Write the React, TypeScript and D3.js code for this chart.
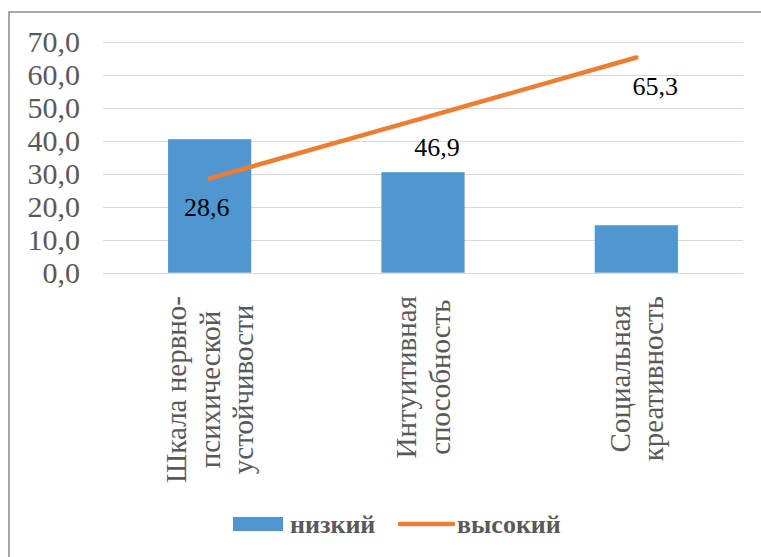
import React from "react";
import * as d3 from "d3";

const categories: string[][] = [
  ["Шкала нервно-", "психической", "устойчивости"],
  ["Интуитивная", "способность"],
  ["Социальная", "креативность"],
];
const lowValues = [40.5, 30.5, 14.4];
const highValues = [28.6, 46.9, 65.3];
const yTicks = [0, 10, 20, 30, 40, 50, 60, 70];
const seriesNames = ["низкий", "высокий"];

const W = 761;
const H = 557;
const labelDx = [-3, 14, 19];

const plotL = 103, plotR = 743, plotT = 42, plotB = 272.7;
const x = d3.scaleBand<number>().domain(d3.range(categories.length)).range([plotL, plotR]).paddingInner(0.61).paddingOuter(0.305);
const y = d3.scaleLinear().domain([0, 70]).range([plotB, plotT]);
const cx = (i: number) => (x(i) as number) + x.bandwidth() / 2;
const fmt = (v: number) => v.toFixed(1).replace(".", ",");

function measure(text: string, size: number): number {
  if (typeof document === "undefined") return text.length * size * 0.5;
  const c = document.createElement("canvas").getContext("2d");
  if (!c) return text.length * size * 0.5;
  c.font = `${size}px "Liberation Serif"`;
  return c.measureText(text).width;
}

export default function App() {
  const linePath = d3.line<number>().x((_d, i) => cx(i)).y((d) => y(d))(highValues) || "";
  const lineGap = 33.5;
  const catTop = 296;
  const catSize = 29;

  return (
    <svg width={W} height={H} style={{ position: "absolute", left: 0, top: 0 }}>
      <rect width={W} height={H} fill="#fff" />
      <path d={`M9,${H} L9,12 L${W},12`} fill="none" stroke="#8c8c8c" strokeWidth={1.5} />

      {yTicks.map((t) => (
        <line key={"g" + t} x1={plotL} x2={plotR} y1={Math.round(y(t)) + 0.5} y2={Math.round(y(t)) + 0.5} stroke="#d9d9d9" strokeWidth={1.2} />
      ))}
      {yTicks.map((t) => (
        <text key={"t" + t} x={80} y={y(t) + 10} textAnchor="end" fontSize={30} fill="#595959" style={{ fontFamily: '"Liberation Serif"' }}>
          {fmt(t)}
        </text>
      ))}

      {lowValues.map((v, i) => (
        <rect key={"b" + i} x={x(i)} width={x.bandwidth()} y={y(v)} height={plotB - y(v)} fill="#5097d1" />
      ))}

      <path d={linePath} fill="none" stroke="#ed7d31" strokeWidth={4.5} strokeLinecap="round" />

      {highValues.map((v, i) => (
        <text key={"d" + i} x={cx(i) + labelDx[i]} y={y(v) + 38} textAnchor="middle" fontSize={26} fill="#000" style={{ fontFamily: '"Times New Roman"' }}>
          {fmt(v)}
        </text>
      ))}

      {categories.map((lines, i) => {
        const maxLen = d3.max(lines, (l) => measure(l, catSize)) || 0;
        const cy = catTop + maxLen / 2;
        return (
          <g key={"c" + i}>
            {lines.map((l, j) => {
              const bx = cx(i) + (j - (lines.length - 1) / 2) * lineGap + 10;
              return (
                <text key={j} transform={`translate(${bx},${cy}) rotate(-90)`} textAnchor="middle" fill="#595959" style={{ font: `${catSize}px "Liberation Serif"` }}>
                  {l}
                </text>
              );
            })}
          </g>
        );
      })}

      <rect x={233} y={517} width={50} height={14} fill="#5097d1" />
      <text x={290} y={533} fontSize={26} fontWeight="bold" fill="#595959" style={{ fontFamily: '"Tinos"' }}>
        {seriesNames[0]}
      </text>
      <line x1={400} x2={453} y1={524} y2={524} stroke="#ed7d31" strokeWidth={4.5} strokeLinecap="round" />
      <text x={457} y={533} fontSize={26} fontWeight="bold" fill="#595959" style={{ fontFamily: '"Tinos"' }}>
        {seriesNames[1]}
      </text>
    </svg>
  );
}
